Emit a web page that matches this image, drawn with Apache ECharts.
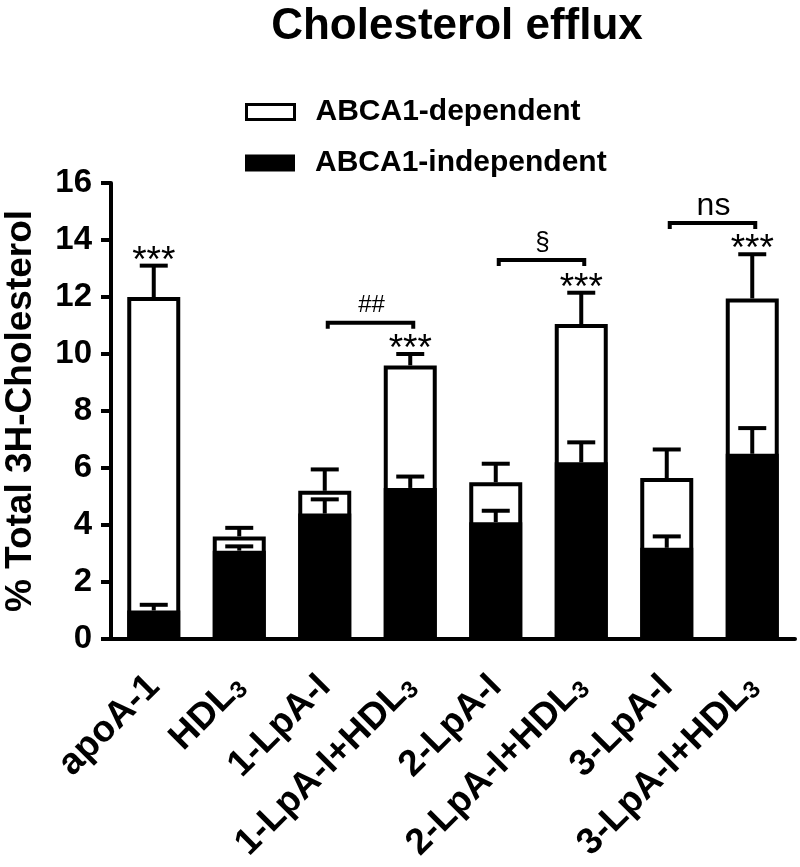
<!DOCTYPE html>
<html>
<head>
<meta charset="utf-8">
<script src="https://cdn.jsdelivr.net/npm/echarts@6/dist/echarts.min.js"></script>
<style>html,body{margin:0;padding:0;background:#fff}#c{width:800px;height:867px}</style>
</head>
<body>
<div id="c"></div>
<script>
const categories = ['apoA-1','HDL3','1-LpA-I','1-LpA-I+HDL3','2-LpA-I','2-LpA-I+HDL3','3-LpA-I','3-LpA-I+HDL3'];
const totalValues = [12.0, 3.6, 5.2, 9.6, 5.5, 11.05, 5.65, 11.95];
const independentValues = [1.0, 3.1, 4.4, 5.3, 4.1, 6.2, 3.2, 6.5];
const totalSEM = [1.1, 0.3, 0.75, 0.4, 0.65, 1.1, 1.0, 1.55];
const independentSEM = [0.2, 0.15, 0.5, 0.4, 0.4, 0.7, 0.4, 0.9];
const significance = ['***','','','***','','***','','***'];
const bracketFrom = [2, 4, 6];
const bracketTo = [3, 5, 7];
const bracketY = [11.1, 13.3, 14.6];
const bracketLabel = ['##', '§', 'ns'];
const yTicks = [0, 2, 4, 6, 8, 10, 12, 14, 16];

const FONT = '"Liberation Sans", Arial, sans-serif';
const chart = echarts.init(document.getElementById('c'), null, {renderer: 'canvas'});

function fmtLabel(v) {
  if (v.endsWith('HDL3')) {
    return '{b|' + v.slice(0, -1) + '}{s|3}';
  }
  return '{b|' + v + '}';
}

const errData = categories.map((c, i) => [i, totalValues[i], totalSEM[i], independentValues[i], independentSEM[i]]);
const brData = bracketFrom.map((f, k) => [f, bracketY[k], bracketTo[k], k]);

const option = {
  animation: false,
  backgroundColor: '#fff',
  title: {
    text: 'Cholesterol efflux',
    left: 452, top: 0, textAlign: 'center',
    textStyle: {fontFamily: FONT, fontWeight: 'bold', fontSize: 44, color: '#000'}
  },
  legend: [
    {
      data: ['ABCA1-dependent'], left: 240, top: 92, orient: 'vertical',
      itemWidth: 48, itemHeight: 15, icon: 'rect',
      itemStyle: {borderWidth: 3, borderColor: '#000', color: '#fff'},
      textStyle: {fontFamily: FONT, fontWeight: 'bold', fontSize: 30, color: '#000', lineHeight: 30, padding: [0, 0, 0, 16]}
    },
    {
      data: ['ABCA1-independent'], left: 240, top: 143, orient: 'vertical',
      itemWidth: 48, itemHeight: 15, icon: 'rect',
      textStyle: {fontFamily: FONT, fontWeight: 'bold', fontSize: 30, color: '#000', lineHeight: 30, padding: [0, 0, 0, 16]}
    }
  ],
  grid: {left: 111, right: 5, top: 183, bottom: 228, containLabel: false, outerBoundsMode: 'none'},
  xAxis: {
    type: 'category', data: categories,
    axisLine: {lineStyle: {color: '#000', width: 4}},
    axisTick: {alignWithLabel: true, length: 10, lineStyle: {color: '#000', width: 4}},
    axisLabel: {
      rotate: 45, margin: 42, interval: 0, formatter: fmtLabel,
      rich: {
        b: {fontFamily: FONT, fontWeight: 'bold', fontSize: 37, color: '#000'},
        s: {fontFamily: FONT, fontWeight: 'bold', fontSize: 24, color: '#000', padding: [14, 0, 0, 0]}
      }
    }
  },
  yAxis: {
    type: 'value', min: 0, max: 16, interval: 2,
    name: '% Total 3H-Cholesterol', nameLocation: 'middle', nameGap: 72, nameRotate: 90,
    nameTextStyle: {fontFamily: FONT, fontWeight: 'bold', fontSize: 37, color: '#000'},
    splitLine: {show: false},
    axisLine: {show: true, lineStyle: {color: '#000', width: 4}},
    axisTick: {show: true, length: 10, lineStyle: {color: '#000', width: 4}},
    axisLabel: {
      margin: 19, fontFamily: FONT, fontWeight: 'bold', fontSize: 33, color: '#000',
      formatter: v => yTicks.includes(v) ? String(v) : ''
    }
  },
  series: [
    {
      name: 'ABCA1-dependent', type: 'bar', data: totalValues, barWidth: 53,
      itemStyle: {color: '#fff', borderColor: '#000', borderWidth: 4}, z: 2
    },
    {
      name: 'ABCA1-independent', type: 'bar', data: independentValues, barWidth: 53, barGap: '-100%',
      itemStyle: {color: '#000', borderColor: '#000', borderWidth: 4}, z: 3
    },
    {
      type: 'custom', name: 'err', data: errData, z: 4, clip: false,
      encode: {x: 0, y: 1},
      renderItem: function (params, api) {
        const i = api.value(0);
        const children = [];
        const pairs = [[api.value(1), api.value(2)], [api.value(3), api.value(4)]];
        pairs.forEach(([m, s]) => {
          const a = api.coord([i, m]);
          const b = api.coord([i, m + s]);
          children.push({type: 'line', shape: {x1: a[0], y1: a[1], x2: b[0], y2: b[1]}, style: {stroke: '#000', lineWidth: 4}});
          children.push({type: 'line', shape: {x1: b[0] - 14, y1: b[1], x2: b[0] + 14, y2: b[1]}, style: {stroke: '#000', lineWidth: 4}});
        });
        const sig = significance[i];
        if (sig) {
          const t = api.coord([i, api.value(1) + api.value(2)]);
          children.push({type: 'text', style: {text: sig, x: t[0], y: t[1] - 4, align: 'center', verticalAlign: 'middle', fontSize: 37, fontFamily: FONT, fill: '#000'}});
        }
        return {type: 'group', children: children};
      }
    },
    {
      type: 'custom', name: 'brackets', data: brData, z: 4, clip: false,
      encode: {x: 0, y: 1},
      renderItem: function (params, api) {
        const a = api.coord([api.value(0), api.value(1)]);
        const b = api.coord([api.value(2), api.value(1)]);
        const k = api.value(3);
        const x1 = a[0] + 3, x2 = b[0] + 3, y = a[1];
        const lab = bracketLabel[k];
        const fs = lab === 'ns' ? 32 : (lab === '§' ? 26 : 24);
        return {type: 'group', children: [
          {type: 'polyline', shape: {points: [[x1, y + 6], [x1, y], [x2, y], [x2, y + 6]]}, style: {stroke: '#000', lineWidth: 4, fill: 'none'}},
          {type: 'text', style: {text: lab, x: (x1 + x2) / 2 + 1, y: y - 17, align: 'center', verticalAlign: 'middle', fontSize: fs, fontFamily: FONT, fill: '#000'}}
        ]};
      }
    }
  ]
};
chart.setOption(option);
</script>
</body>
</html>
